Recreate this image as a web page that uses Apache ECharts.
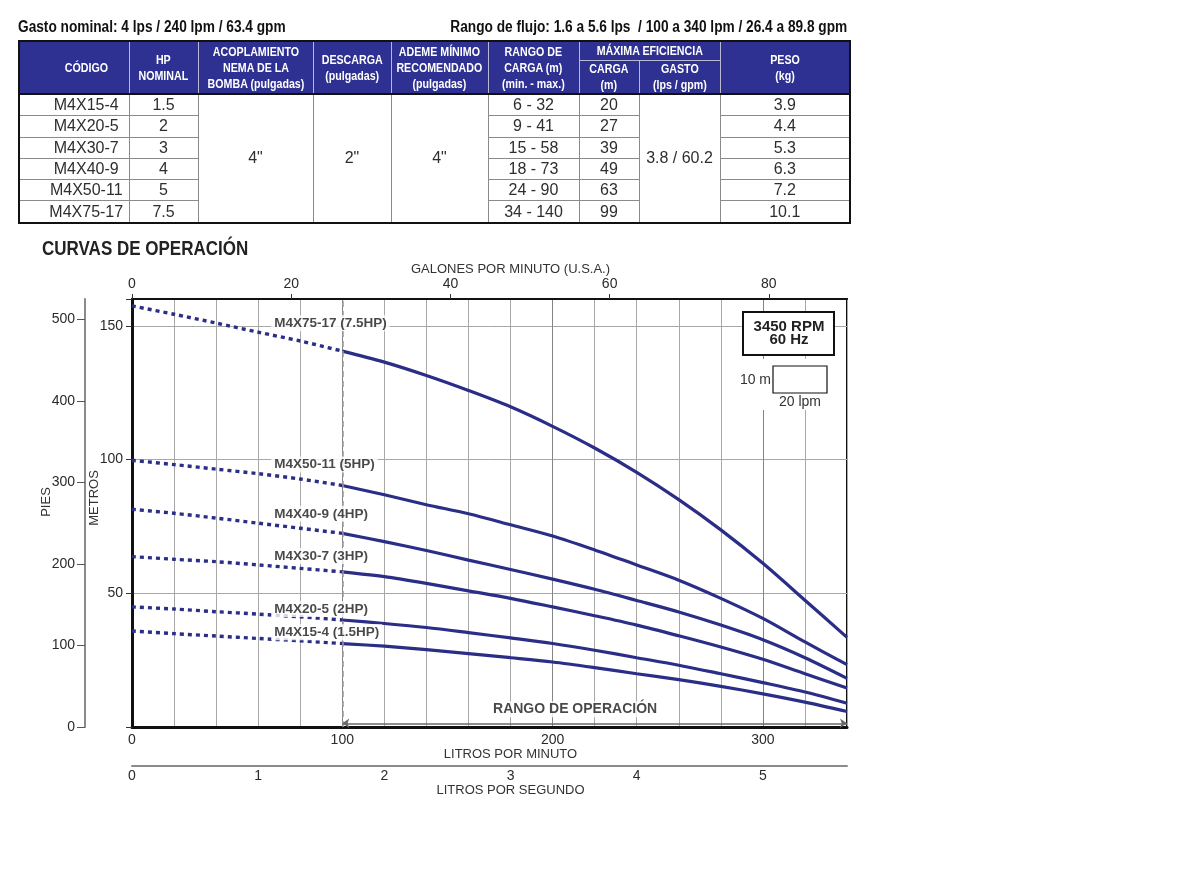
<!DOCTYPE html>
<html>
<head>
<meta charset="utf-8">
<script src="https://cdn.jsdelivr.net/npm/echarts@6/dist/echarts.min.js"></script>
<style>
html,body{margin:0;padding:0;background:#fff;}
#chart{position:absolute;left:0;top:0;width:1200px;height:886px;}
#top{position:absolute;left:0;top:0;width:1200px;height:230px;z-index:2;}
.cap{position:absolute;top:17px;font-family:'Liberation Sans',Arial,sans-serif;font-weight:bold;font-size:16px;line-height:20px;color:#111;white-space:pre;transform:scaleX(0.855);}
table{position:absolute;left:18px;top:40px;width:831px;border-collapse:collapse;table-layout:fixed;border:2px solid #111;}
th{background:#2e3192;color:#fff;font-family:'Liberation Sans',Arial,sans-serif;font-weight:bold;font-size:13px;line-height:16px;text-align:center;padding:0;border:1px solid #b8b8d0;overflow:visible;}
th span{display:inline-block;white-space:nowrap;transform:scaleX(0.82);margin:0 -40px;}
tr.h1 th{height:18px;}
tr.h2 th{height:29px;}
td{font-family:'Liberation Sans',Arial,sans-serif;font-size:16px;color:#2e2e2e;text-align:center;padding:0;height:20.3px;line-height:20px;border:1px solid #8a8a8a;}
tbody tr:first-child td{border-top:2px solid #111;}
.c0{padding-left:24px;}
</style>
</head>
<body>
<div id="chart"></div>
<div id="top">
  <div class="cap" style="left:18px;transform-origin:left center;">Gasto nominal: 4 lps / 240 lpm / 63.4 gpm</div>
  <div class="cap" style="right:353px;text-align:right;transform-origin:right center;">Rango de flujo: 1.6 a 5.6 lps  / 100 a 340 lpm / 26.4 a 89.8 gpm</div>
  <table id="tbl"></table>
</div>
<script>
// ---------- Table data ----------
const codes = ['M4X15-4','M4X20-5','M4X30-7','M4X40-9','M4X50-11','M4X75-17'];
const hpNominal = ['1.5','2','3','4','5','7.5'];
const acoplamiento = '4"';
const descarga = '2"';
const ademe = '4"';
const rangoCarga = ['6 - 32','9 - 41','15 - 58','18 - 73','24 - 90','34 - 140'];
const cargaMaxEf = ['20','27','39','49','63','99'];
const gastoMaxEf = '3.8 / 60.2';
const peso = ['3.9','4.4','5.3','6.3','7.2','10.1'];

// ---------- Curve data (flow in lpm, head in m) ----------
const flows = [0,20,40,60,80,100,120,140,160,180,200,220,240,260,280,300,320,340];
const H15 = [35.9,34.9,34.0,33.1,32.2,31.2,30.2,28.9,27.4,25.9,24.3,22.2,19.9,17.7,15.2,12.4,9.3,5.8];
const H20 = [44.9,44.1,43.1,42.2,41.2,40.0,38.7,37.2,35.3,33.3,31.2,28.7,25.9,23.1,19.9,16.6,13.1,8.9];
const H30 = [63.7,62.7,61.8,60.6,59.3,58.0,56.2,53.7,50.9,48.1,44.9,41.6,38.1,34.1,29.9,25.3,19.9,14.6];
const H40 = [81.4,79.9,78.1,76.2,74.3,72.4,69.3,66.0,62.4,58.9,55.3,51.5,47.3,43.0,38.1,32.6,25.9,18.2];
const H50 = [99.7,98.1,96.4,94.7,92.7,90.3,86.8,83.1,79.7,75.6,71.4,66.2,60.6,54.9,48.1,40.6,31.8,23.3];
const H75 = [157.4,154.3,151.0,147.6,144.3,140.5,136.4,131.4,125.8,119.7,112.4,104.3,95.2,85.0,73.7,61.2,47.4,33.5];
const pumpNames = ['M4X15-4 (1.5HP)','M4X20-5 (2HP)','M4X30-7 (3HP)','M4X40-9 (4HP)','M4X50-11 (5HP)','M4X75-17 (7.5HP)'];
const pumpHeads = [H15,H20,H30,H40,H50,H75];
const labelFlow = 66.2;
const labelHeads = [35.4,44.1,63.9,79.7,98.1,150.9];
const minOperatingFlow = 100;
const maxFlow = 340;

// tick labels
const lpmTicks = [0,100,200,300];
const gpmTicks = [0,20,40,60,80];
const lpsTicks = [0,1,2,3,4,5];
const metrosTicks = [50,100,150];
const piesTicks = [0,100,200,300,400,500];

// ---------- build table ----------
(function(){
  const s = t => '<span>'+t+'</span>';
  let h = '<colgroup>' + [110,69,115,78,97,91,60,81,130].map(w=>'<col style="width:'+w+'px">').join('') + '</colgroup>';
  h += '<thead><tr class="h1">' +
    '<th rowspan="2" class="c0">'+s('CÓDIGO')+'</th>' +
    '<th rowspan="2">'+s('HP<br>NOMINAL')+'</th>' +
    '<th rowspan="2">'+s('ACOPLAMIENTO<br>NEMA DE LA<br>BOMBA (pulgadas)')+'</th>' +
    '<th rowspan="2">'+s('DESCARGA<br>(pulgadas)')+'</th>' +
    '<th rowspan="2">'+s('ADEME MÍNIMO<br>RECOMENDADO<br>(pulgadas)')+'</th>' +
    '<th rowspan="2">'+s('RANGO DE<br>CARGA (m)<br>(min. - max.)')+'</th>' +
    '<th colspan="2">'+s('MÁXIMA EFICIENCIA')+'</th>' +
    '<th rowspan="2">'+s('PESO<br>(kg)')+'</th></tr>' +
    '<tr class="h2"><th>'+s('CARGA<br>(m)')+'</th><th>'+s('GASTO<br>(lps / gpm)')+'</th></tr></thead><tbody>';
  for (let i=0;i<codes.length;i++){
    h += '<tr><td class="c0">'+codes[i]+'</td><td>'+hpNominal[i]+'</td>';
    if (i===0){
      h += '<td rowspan="6">'+acoplamiento+'</td><td rowspan="6">'+descarga+'</td><td rowspan="6">'+ademe+'</td>';
    }
    h += '<td>'+rangoCarga[i]+'</td><td>'+cargaMaxEf[i]+'</td>';
    if (i===0) h += '<td rowspan="6">'+gastoMaxEf+'</td>';
    h += '<td>'+peso[i]+'</td></tr>';
  }
  h += '</tbody>';
  document.getElementById('tbl').innerHTML = h;
})();

// ---------- chart ----------
const NAVY = '#2a2e86';
const REG = "'Liberation Sans',Arial,sans-serif";
const GRIDC = ['#858585','#a8a8a8','#a8a8a8','#a8a8a8','#a8a8a8'];

const series = [];
pumpHeads.forEach((H,i)=>{
  const pts = flows.map((q,j)=>[q,H[j]]);
  series.push({
    type:'line', name:pumpNames[i]+' dotted', data: pts.filter(p=>p[0]<=minOperatingFlow),
    showSymbol:false, smooth:0.3, silent:true, z:3,
    lineStyle:{color:NAVY,width:3.4,type:[4,4],cap:'butt'}
  });
  series.push({
    type:'line', name:pumpNames[i], data: pts.filter(p=>p[0]>=minOperatingFlow),
    showSymbol:false, smooth:0.3, silent:true, z:3,
    lineStyle:{color:NAVY,width:3.2}
  });
});
// reference lines
series.push({
  type:'line', data:[], silent:true, z:2,
  markLine:{silent:true, symbol:['none','none'], label:{show:false}, animation:false,
    lineStyle:{color:'#9a9a9a',type:[6,4],width:1.5},
    data:[{xAxis:minOperatingFlow}]}
});
series.push({
  type:'line', data:[], silent:true, z:2,
  markLine:{silent:true, symbol:['arrow','arrow'], symbolSize:7, label:{show:false}, animation:false,
    lineStyle:{color:'#6a6a6a',type:'solid',width:1.5},
    data:[[{coord:[minOperatingFlow,1.4]},{coord:[maxFlow,1.4]}]]}
});
// curve labels
series.push({
  type:'scatter', symbolSize:0, silent:true, z:10,
  data: labelHeads.map((h,i)=>({name:pumpNames[i], value:[labelFlow,h]})),
  label:{show:true, position:'right', distance:0, formatter:'{b}', color:'#1a1a1a',
    fontFamily:REG, fontWeight:'bold', fontSize:13.5, backgroundColor:'#fff', padding:[1,3]}
});
series.push({
  type:'scatter', symbolSize:0, silent:true, z:10,
  data:[{name:'RANGO DE OPERACIÓN', value:[210.7,6.6]}],
  label:{show:true, position:'inside', formatter:'{b}', color:'#1a1a1a',
    fontFamily:REG, fontWeight:'bold', fontSize:14, backgroundColor:'#fff', padding:[1,4]}
});

const axisName = {color:'#333', fontFamily:REG, fontSize:13, padding:[0,0,0,42]};
const tickLab = {color:'#2a2a2a', fontFamily:REG, fontSize:14};

const option = {
  animation:false,
  backgroundColor:'#fff',
  grid:{left:132, right:353, top:299, bottom:159, show:true, borderColor:'#111', borderWidth:2, backgroundColor:'transparent'},
  xAxis:[
    {type:'value', position:'bottom', min:0, max:maxFlow, interval:20,
     axisLine:{show:true, onZero:false, lineStyle:{color:'#111', width:3}},
     axisTick:{show:false},
     axisLabel:Object.assign({customValues:lpmTicks, margin:6}, tickLab),
     splitLine:{show:true, lineStyle:{color:GRIDC, width:1}},
     name:'LITROS POR MINUTO', nameLocation:'middle', nameGap:20, nameTextStyle:axisName},
    {type:'value', position:'top', min:0, max:maxFlow/3.785411784, interval:20,
     axisLine:{show:true, onZero:false, lineStyle:{color:'#111', width:2}},
     axisTick:{show:true, length:5, customValues:gpmTicks, lineStyle:{color:'#333'}},
     axisLabel:Object.assign({customValues:gpmTicks, margin:8}, tickLab),
     splitLine:{show:false},
     name:'GALONES POR MINUTO (U.S.A.)', nameLocation:'middle', nameGap:22, nameTextStyle:axisName},
    {type:'value', position:'bottom', offset:39, min:0, max:maxFlow/60, interval:1,
     axisLine:{show:true, onZero:false, lineStyle:{color:'#8a8a8a', width:2}},
     axisTick:{show:false},
     axisLabel:Object.assign({customValues:lpsTicks, margin:3}, tickLab),
     splitLine:{show:false},
     name:'LITROS POR SEGUNDO', nameLocation:'middle', nameGap:18, nameTextStyle:axisName}
  ],
  yAxis:[
    {type:'value', position:'left', min:0, max:160, interval:10,
     axisLine:{show:true, onZero:false, lineStyle:{color:'#111', width:3}},
     axisTick:{show:true, length:6, customValues:[0,50,100,150,160], lineStyle:{color:'#333'}},
     axisLabel:Object.assign({customValues:metrosTicks, margin:9}, tickLab),
     splitLine:{show:true, lineStyle:{color:GRIDC, width:1}}},
    {type:'value', position:'left', offset:47, min:0, max:160/0.3048, interval:100,
     axisLine:{show:true, onZero:false, lineStyle:{color:'#8a8a8a', width:2}},
     axisTick:{show:true, length:8, customValues:piesTicks, lineStyle:{color:'#555'}},
     axisLabel:Object.assign({customValues:piesTicks, margin:10}, tickLab),
     splitLine:{show:false}}
  ],
  graphic:[
    {type:'text', x:42, y:249, scaleX:0.85, z:20,
     style:{text:'CURVAS DE OPERACIÓN', font:"bold 20px "+REG, fill:'#222', align:'left', verticalAlign:'middle'}},
    {type:'text', x:94, y:498, rotation:Math.PI/2, z:20,
     style:{text:'METROS', font:"13px "+REG, fill:'#333', align:'center', verticalAlign:'middle'}},
    {type:'text', x:46, y:502, rotation:Math.PI/2, z:20,
     style:{text:'PIES', font:"13px "+REG, fill:'#333', align:'center', verticalAlign:'middle'}},
    {type:'rect', shape:{x:743,y:312,width:91,height:43}, z:20,
     style:{fill:'#fff', stroke:'#111', lineWidth:2}},
    {type:'text', x:789, y:333, z:21,
     style:{text:'3450 RPM\n60 Hz', font:"bold 15px "+REG, lineHeight:13, fill:'#222', align:'center', verticalAlign:'middle'}},
    {type:'rect', shape:{x:738,y:359,width:98,height:51}, z:20, style:{fill:'#fff', stroke:null}},
    {type:'rect', shape:{x:773,y:366,width:54,height:27}, z:21, style:{fill:'#fff', stroke:'#111', lineWidth:1.2}},
    {type:'text', x:771, y:380, z:21,
     style:{text:'10 m', font:"14px "+REG, fill:'#333', align:'right', verticalAlign:'middle'}},
    {type:'text', x:800, y:402, z:21,
     style:{text:'20 lpm', font:"14px "+REG, fill:'#333', align:'center', verticalAlign:'middle'}}
  ],
  series: series
};

const chart = echarts.init(document.getElementById('chart'), null, {renderer:'canvas'});
chart.setOption(option);
</script>
</body>
</html>
